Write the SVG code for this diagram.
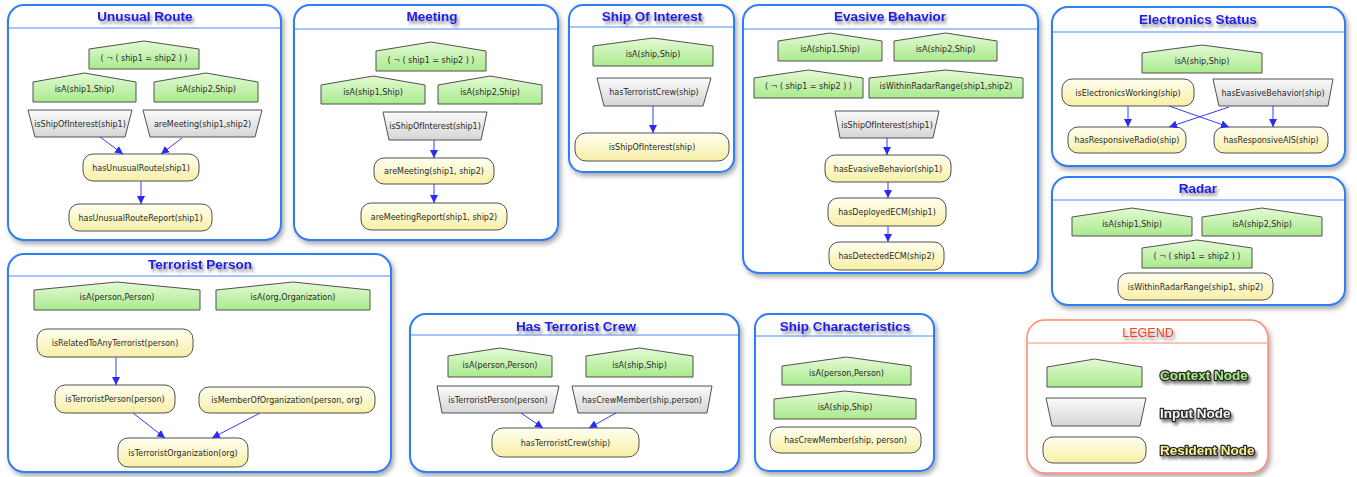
<svg xmlns="http://www.w3.org/2000/svg" width="1357" height="477" viewBox="0 0 1357 477">
<defs>
<linearGradient id="gCtx" x1="0" y1="0" x2="0" y2="1"><stop offset="0" stop-color="#e4fad4"/><stop offset="1" stop-color="#a9ea8e"/></linearGradient>
<linearGradient id="gIn" x1="0" y1="0" x2="0" y2="1"><stop offset="0" stop-color="#fafafa"/><stop offset="1" stop-color="#d6d6d6"/></linearGradient>
<linearGradient id="gRes" x1="0" y1="0" x2="0" y2="1"><stop offset="0" stop-color="#fffff2"/><stop offset="1" stop-color="#f8efa6"/></linearGradient>
<filter id="fsh" x="-10%" y="-10%" width="130%" height="130%"><feDropShadow dx="2" dy="3" stdDeviation="2.5" flood-color="#000" flood-opacity="0.35"/></filter>
<filter id="tsh" x="-20%" y="-50%" width="140%" height="200%"><feDropShadow dx="2" dy="3" stdDeviation="1.5" flood-color="#555" flood-opacity="0.7"/></filter>
<marker id="arr" markerWidth="9" markerHeight="9" refX="8" refY="4" orient="auto" markerUnits="userSpaceOnUse"><path d="M0,0 L8,4 L0,8 z" fill="#2a2af0"/></marker>
</defs>
<style>
.frame{fill:#fff;stroke:#2f7ef4;stroke-width:2;filter:url(#fsh)}
.hl{stroke:#4a8cf5;stroke-width:1}
.title{font-family:"Liberation Sans",Arial,sans-serif;font-weight:bold;font-size:13.5px;fill:#1a1aee;text-anchor:middle;filter:url(#tsh)}
.ctx{fill:url(#gCtx);stroke:#505050;stroke-width:1}
.in{fill:url(#gIn);stroke:#505050;stroke-width:1}
.res{fill:url(#gRes);stroke:#505050;stroke-width:1}
.t{font-family:"DejaVu Sans",Verdana,sans-serif;font-size:8px;fill:#2a2a2a;text-anchor:middle}
.c{stroke:#3b3bf5;stroke-width:1;fill:none;marker-end:url(#arr)}
.lframe{fill:#fff;stroke:#ff8a6e;stroke-width:1.5;filter:url(#fsh)}
.lt{font-family:"Liberation Sans",Arial,sans-serif;font-weight:bold;font-size:13.5px;stroke:#2a2a2a;stroke-width:2.6;stroke-linejoin:round;paint-order:stroke;filter:url(#tsh)}
</style>
<rect width="1357" height="477" fill="#fff"/>

<!-- Frames -->
<g id="frame-unusual-route"><rect class="frame" x="8" y="5" width="273" height="235" rx="16"/><line class="hl" x1="9" y1="28" x2="280" y2="28"/><text class="title" x="145" y="21">Unusual Route</text></g>
<g id="frame-meeting"><rect class="frame" x="294" y="5" width="264" height="235" rx="16"/><line class="hl" x1="295" y1="29" x2="557" y2="29"/><text class="title" x="432" y="21">Meeting</text></g>
<g id="frame-ship-of-interest"><rect class="frame" x="569" y="5" width="165" height="167" rx="14"/><line class="hl" x1="570" y1="27" x2="733" y2="27"/><text class="title" x="652" y="21">Ship Of Interest</text></g>
<g id="frame-evasive-behavior"><rect class="frame" x="743" y="5" width="295" height="268" rx="16"/><line class="hl" x1="744" y1="29" x2="1037" y2="29"/><text class="title" x="890" y="21">Evasive Behavior</text></g>
<g id="frame-electronics-status"><rect class="frame" x="1052" y="7" width="293" height="159" rx="16"/><line class="hl" x1="1053" y1="32" x2="1344" y2="32"/><text class="title" x="1198" y="24">Electronics Status</text></g>
<g id="frame-radar"><rect class="frame" x="1052" y="177" width="293" height="128" rx="16"/><line class="hl" x1="1053" y1="200" x2="1344" y2="200"/><text class="title" x="1198" y="193">Radar</text></g>
<g id="frame-terrorist-person"><rect class="frame" x="8" y="254" width="383" height="218" rx="16"/><line class="hl" x1="9" y1="276" x2="390" y2="276"/><text class="title" x="200" y="269">Terrorist Person</text></g>
<g id="frame-has-terrorist-crew"><rect class="frame" x="410" y="314" width="329" height="158" rx="16"/><line class="hl" x1="411" y1="335" x2="738" y2="335"/><text class="title" x="576" y="331">Has Terrorist Crew</text></g>
<g id="frame-ship-characteristics"><rect class="frame" x="755" y="314" width="179" height="157" rx="14"/><line class="hl" x1="756" y1="336" x2="933" y2="336"/><text class="title" x="845" y="331">Ship Characteristics</text></g>
<g id="legend"><rect class="lframe" x="1027" y="320" width="241" height="153" rx="18"/><line x1="1028" y1="343" x2="1267" y2="343" stroke="#ff8a6e" stroke-width="1"/>
<text x="1148" y="337" text-anchor="middle" font-family="Liberation Sans,Arial,sans-serif" font-size="12.5" fill="#ff3b1a" filter="url(#tsh)">LEGEND</text>
<path class="ctx" d="M1047,387 L1047,367 L1094.5,359 L1142,367 L1142,387 Z"/>
<path class="in" d="M1046,398 L1146,398 L1140,426 L1052,426 Z"/>
<rect class="res" x="1043" y="437" width="103" height="26" rx="10"/>
<text class="lt" x="1160" y="380" fill="#a8f080">Context Node</text>
<text class="lt" x="1160" y="418" fill="#f4f4f4">Input Node</text>
<text class="lt" x="1160" y="455" fill="#fbf090">Resident Node</text>
</g>

<!-- Unusual Route nodes -->
<g id="ur-neq"><path class="ctx" d="M89,69 L89,49 L144,41 L199,49 L199,69 Z"/><text class="t" x="144" y="61">( ¬ ( ship1 = ship2 ) )</text></g>
<g id="ur-isa1"><path class="ctx" d="M33,102 L33,82 L84.5,73 L136,82 L136,102 Z"/><text class="t" x="84.5" y="92">isA(ship1,Ship)</text></g>
<g id="ur-isa2"><path class="ctx" d="M154,102 L154,82 L206,73 L258,82 L258,102 Z"/><text class="t" x="206" y="92">isA(ship2,Ship)</text></g>
<g id="ur-soi"><path class="in" d="M28,110 L132,110 L125,137 L35,137 Z"/><text class="t" x="80" y="126.5">isShipOfInterest(ship1)</text></g>
<g id="ur-meet"><path class="in" d="M143,110 L262,110 L255,137 L150,137 Z"/><text class="t" x="202.5" y="126.5">areMeeting(ship1,ship2)</text></g>
<g id="ur-route"><rect class="res" x="83" y="154" width="116" height="27" rx="10"/><text class="t" x="141" y="170.5">hasUnusualRoute(ship1)</text></g>
<g id="ur-report"><rect class="res" x="69" y="204" width="143" height="27" rx="10"/><text class="t" x="140.5" y="220.5">hasUnusualRouteReport(ship1)</text></g>

<!-- Meeting nodes -->
<g id="m-neq"><path class="ctx" d="M376,71 L376,51 L431,42 L486,51 L486,71 Z"/><text class="t" x="431" y="63">( ¬ ( ship1 = ship2 ) )</text></g>
<g id="m-isa1"><path class="ctx" d="M321,104 L321,85 L373,76 L425,85 L425,104 Z"/><text class="t" x="373" y="95">isA(ship1,Ship)</text></g>
<g id="m-isa2"><path class="ctx" d="M438,104 L438,85 L490,76 L542,85 L542,104 Z"/><text class="t" x="490" y="95">isA(ship2,Ship)</text></g>
<g id="m-soi"><path class="in" d="M383,112 L487,112 L481,140 L389,140 Z"/><text class="t" x="435" y="129">isShipOfInterest(ship1)</text></g>
<g id="m-meet"><rect class="res" x="374" y="158" width="120" height="26" rx="10"/><text class="t" x="434" y="174">areMeeting(ship1, ship2)</text></g>
<g id="m-report"><rect class="res" x="361" y="203" width="146" height="27" rx="10"/><text class="t" x="434" y="219.5">areMeetingReport(ship1, ship2)</text></g>

<!-- Ship Of Interest nodes -->
<g id="soi-isa"><path class="ctx" d="M593,66 L593,46 L653,38 L713,46 L713,66 Z"/><text class="t" x="653" y="57">isA(ship,Ship)</text></g>
<g id="soi-crew"><path class="in" d="M597,78 L711,78 L703,106 L604,106 Z"/><text class="t" x="654" y="95">hasTerroristCrew(ship)</text></g>
<g id="soi-res"><rect class="res" x="575" y="133" width="154" height="28" rx="11"/><text class="t" x="652" y="150">isShipOfInterest(ship)</text></g>

<!-- Evasive Behavior nodes -->
<g id="eb-isa1"><path class="ctx" d="M778,61 L778,41 L830,33 L882,41 L882,61 Z"/><text class="t" x="830" y="52">isA(ship1,Ship)</text></g>
<g id="eb-isa2"><path class="ctx" d="M894,61 L894,41 L945.5,33 L997,41 L997,61 Z"/><text class="t" x="945.5" y="52">isA(ship2,Ship)</text></g>
<g id="eb-neq"><path class="ctx" d="M754,98 L754,78 L808.5,70 L863,78 L863,98 Z"/><text class="t" x="808.5" y="89">( ¬ ( ship1 = ship2 ) )</text></g>
<g id="eb-radar"><path class="ctx" d="M869,98 L869,78 L946,70 L1023,78 L1023,98 Z"/><text class="t" x="946" y="89">isWithinRadarRange(ship1,ship2)</text></g>
<g id="eb-soi"><path class="in" d="M835,111 L939,111 L933,138 L840,138 Z"/><text class="t" x="887" y="127.5">isShipOfInterest(ship1)</text></g>
<g id="eb-evasive"><rect class="res" x="825" y="155" width="126" height="27" rx="10"/><text class="t" x="888" y="171.5">hasEvasiveBehavior(ship1)</text></g>
<g id="eb-deployed"><rect class="res" x="828" y="198" width="118" height="28" rx="10"/><text class="t" x="887" y="215">hasDeployedECM(ship1)</text></g>
<g id="eb-detected"><rect class="res" x="829" y="242" width="115" height="28" rx="10"/><text class="t" x="886.5" y="259">hasDetectedECM(ship2)</text></g>

<!-- Electronics Status nodes -->
<g id="es-isa"><path class="ctx" d="M1142,73 L1142,53 L1202,45 L1262,53 L1262,73 Z"/><text class="t" x="1202" y="64">isA(ship,Ship)</text></g>
<g id="es-working"><rect class="res" x="1062" y="79" width="132" height="27" rx="10"/><text class="t" x="1128" y="95.5">isElectronicsWorking(ship)</text></g>
<g id="es-evasive"><path class="in" d="M1213,79 L1333,79 L1328,106 L1219,106 Z"/><text class="t" x="1273" y="95.5">hasEvasiveBehavior(ship)</text></g>
<g id="es-radio"><rect class="res" x="1068" y="127" width="118" height="26" rx="10"/><text class="t" x="1127" y="143">hasResponsiveRadio(ship)</text></g>
<g id="es-ais"><rect class="res" x="1214" y="127" width="114" height="26" rx="10"/><text class="t" x="1271" y="143">hasResponsiveAIS(ship)</text></g>

<!-- Radar nodes -->
<g id="r-isa1"><path class="ctx" d="M1072,236 L1072,217 L1132,208 L1192,217 L1192,236 Z"/><text class="t" x="1132" y="227">isA(ship1,Ship)</text></g>
<g id="r-isa2"><path class="ctx" d="M1202,236 L1202,217 L1262,208 L1322,217 L1322,236 Z"/><text class="t" x="1262" y="227">isA(ship2,Ship)</text></g>
<g id="r-neq"><path class="ctx" d="M1142,268 L1142,248 L1197,240 L1252,248 L1252,268 Z"/><text class="t" x="1197" y="259">( ¬ ( ship1 = ship2 ) )</text></g>
<g id="r-range"><rect class="res" x="1118" y="273" width="155" height="27" rx="10"/><text class="t" x="1195.5" y="289.5">isWithinRadarRange(ship1, ship2)</text></g>

<!-- Terrorist Person nodes -->
<g id="tp-isa-person"><path class="ctx" d="M34,310 L34,290 L117,282 L200,290 L200,310 Z"/><text class="t" x="117" y="300">isA(person,Person)</text></g>
<g id="tp-isa-org"><path class="ctx" d="M216,310 L216,290 L293,282 L370,290 L370,310 Z"/><text class="t" x="293" y="300">isA(org,Organization)</text></g>
<g id="tp-related"><rect class="res" x="37" y="329" width="156" height="28" rx="10"/><text class="t" x="115" y="346">isRelatedToAnyTerrorist(person)</text></g>
<g id="tp-person"><rect class="res" x="55" y="385" width="120" height="28" rx="10"/><text class="t" x="115" y="402">isTerroristPerson(person)</text></g>
<g id="tp-member"><rect class="res" x="199" y="387" width="176" height="26" rx="10"/><text class="t" x="287" y="403">isMemberOfOrganization(person, org)</text></g>
<g id="tp-org"><rect class="res" x="118" y="438" width="130" height="29" rx="10"/><text class="t" x="183" y="455.5">isTerroristOrganization(org)</text></g>

<!-- Has Terrorist Crew nodes -->
<g id="htc-isa-person"><path class="ctx" d="M448,377 L448,356 L500,348 L552,356 L552,377 Z"/><text class="t" x="500" y="367.5">isA(person,Person)</text></g>
<g id="htc-isa-ship"><path class="ctx" d="M586,377 L586,356 L639.5,348 L693,356 L693,377 Z"/><text class="t" x="639.5" y="367.5">isA(ship,Ship)</text></g>
<g id="htc-person"><path class="in" d="M437,386 L559,386 L553,413 L442,413 Z"/><text class="t" x="498" y="402.5">isTerroristPerson(person)</text></g>
<g id="htc-member"><path class="in" d="M572,386 L712,386 L707,413 L578,413 Z"/><text class="t" x="642" y="402.5">hasCrewMember(ship,person)</text></g>
<g id="htc-crew"><rect class="res" x="492" y="428" width="147" height="29" rx="11"/><text class="t" x="565.5" y="445.5">hasTerroristCrew(ship)</text></g>

<!-- Ship Characteristics nodes -->
<g id="sc-isa-person"><path class="ctx" d="M782,385 L782,366 L846.5,357 L911,366 L911,385 Z"/><text class="t" x="846.5" y="376">isA(person,Person)</text></g>
<g id="sc-isa-ship"><path class="ctx" d="M774,419 L774,399 L845,391 L916,399 L916,419 Z"/><text class="t" x="845" y="410">isA(ship,Ship)</text></g>
<g id="sc-member"><rect class="res" x="770" y="427" width="151" height="26" rx="10"/><text class="t" x="845.5" y="443">hasCrewMember(ship, person)</text></g>

<!-- Connectors -->
<g id="connectors">
<line class="c" x1="100" y1="137" x2="123" y2="154"/>
<line class="c" x1="182" y1="138" x2="161" y2="154"/>
<line class="c" x1="141" y1="181" x2="141" y2="204"/>
<line class="c" x1="434" y1="140" x2="434" y2="158"/>
<line class="c" x1="434" y1="184" x2="434" y2="203"/>
<line class="c" x1="653" y1="106" x2="653" y2="133"/>
<line class="c" x1="887" y1="138" x2="887" y2="155"/>
<line class="c" x1="888" y1="182" x2="888" y2="198"/>
<line class="c" x1="888" y1="226" x2="888" y2="242"/>
<line class="c" x1="1128" y1="106" x2="1128" y2="127"/>
<line class="c" x1="1273" y1="106" x2="1273" y2="127"/>
<line class="c" x1="1169" y1="106" x2="1229" y2="127"/>
<line class="c" x1="1229" y1="107" x2="1169" y2="127"/>
<line class="c" x1="116" y1="357" x2="116" y2="385"/>
<line class="c" x1="133" y1="413" x2="165" y2="438"/>
<line class="c" x1="260" y1="413" x2="212" y2="438"/>
<line class="c" x1="521" y1="413" x2="543" y2="428"/>
<line class="c" x1="616" y1="413" x2="589" y2="428"/>
</g>
</svg>
